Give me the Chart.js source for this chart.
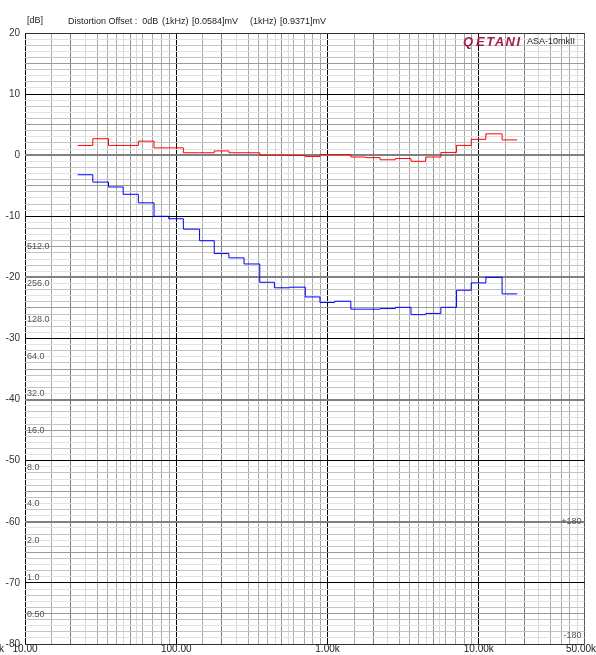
<!DOCTYPE html>
<html>
<head>
<meta charset="utf-8">
<script src="https://cdn.jsdelivr.net/npm/chart.js@4.4.0/dist/chart.umd.min.js"></script>
<style>
  html, body { margin: 0; padding: 0; background: #fff; }
  #wrap { position: relative; width: 596px; height: 655px; }
</style>
</head>
<body>
<div id="wrap"><canvas id="chart"></canvas></div>
<script>
// bandas de 1/3 de octava (Hz)
const bandas = [25, 31.5, 40, 50, 63, 80, 100, 125, 160, 200, 250, 315, 400, 500, 630, 800,
  1000, 1250, 1600, 2000, 2500, 3150, 4000, 5000, 6300, 8000, 10000, 12500, 16000];
// curva roja (dB)
const rojo = [1.6, 2.7, 1.6, 1.6, 2.3, 1.2, 1.2, 0.4, 0.4, 0.7, 0.4, 0.4, 0.0, 0.0, -0.05, -0.2,
  0.1, 0.1, -0.3, -0.4, -0.75, -0.55, -1.0, -0.3, 0.45, 1.6, 2.6, 3.5, 2.5];
// curva azul (dB)
const azul = [-3.2, -4.4, -5.2, -6.4, -7.8, -10.0, -10.4, -12.1, -14.0, -16.1, -16.8, -17.8, -20.8, -21.7, -21.6, -23.2,
  -24.1, -23.9, -25.2, -25.2, -25.1, -24.9, -26.1, -25.9, -24.9, -22.1, -20.9, -20.0, -22.7];
// etiquetas del eje X
const xTicks = [10, 100, 1000, 10000, 50000];
const xLabels = ['10.00', '100.00', '1.00k', '10.00k', '50.00k'];
// escala en mV (izquierda, dentro del gráfico)
const mvValores = [512, 256, 128, 64, 32, 16, 8, 4, 2, 1, 0.5];
const mvLabels = ['512.0', '256.0', '128.0', '64.0', '32.0', '16.0', '8.0', '4.0', '2.0', '1.0', '0.50'];
// escala de fase (derecha)
const faseLabels = ['+180', '-180'];
const faseDb = [-60, -78.6];

const FUENTE = '"Liberation Sans", Arial, sans-serif';

// puntos en los bordes de cada banda para el escalón
function escalones(valores) {
  const pts = bandas.map((f, i) => ({ x: f * Math.pow(10, -0.05), y: valores[i] }));
  const ultima = bandas[bandas.length - 1];
  pts.push({ x: ultima * Math.pow(10, 0.05), y: valores[valores.length - 1] });
  return pts;
}

// líneas verticales de la rejilla
const multX = [1, 1.5, 2, 2.5, 3, 3.5, 4, 4.5, 5, 5.5, 6, 7, 8, 9];
const gridX = [];
[10, 100, 1000, 10000].forEach(d => multX.forEach(m => { if (d * m <= 50000) gridX.push(d * m); }));
gridX.push(50000);

function colorX(v) {
  if (v === 50000) return '#555';
  const m = Math.round(v / Math.pow(10, Math.floor(Math.log10(v) + 1e-9)) * 10) / 10;
  if (m === 1) return '#000';
  if (m === 2) return '#7a7a7a';
  if (m === 5) return '#909090';
  if (m === 2.5 || m === 4.5 || m === 5.5) return '#d8d8d8';
  return '#a8a8a8';
}

// líneas horizontales cada 1 dB
const gridY = [];
for (let v = -80; v <= 20; v++) gridY.push(v);

function colorY(v) {
  if (v === 20 || v === -80) return '#333';
  if (v % 10 === 0) return (v / 10) % 2 !== 0 ? '#000' : '#808080';
  if (v % 5 === 0) return '#9a9a9a';
  return Math.abs(v) % 2 === 0 ? '#c4c4c4' : '#e2e2e2';
}
function anchoY(v) {
  if (v !== 20 && v !== -80 && v % 20 === 0) return 2;
  return 1;
}

function sinRelleno(scale) {
  scale.paddingTop = 0; scale.paddingBottom = 0;
  scale.paddingLeft = 0; scale.paddingRight = 0;
}

// textos fuera del área del gráfico
const textos = {
  id: 'textos',
  afterDraw(chart) {
    const ctx = chart.ctx;
    const x = chart.scales.x;
    ctx.save();
    ctx.textBaseline = 'middle';
    ctx.fillStyle = '#222';

    // etiquetas del eje X
    ctx.font = '10px ' + FUENTE;
    ctx.textAlign = 'center';
    xTicks.forEach((t, i) => {
      let px = x.getPixelForValue(t);
      const w = ctx.measureText(xLabels[i]).width;
      if (px + w / 2 > chart.width) px = chart.width - w / 2;
      ctx.fillText(xLabels[i], px, 649);
    });
    ctx.textAlign = 'right';
    ctx.fillText('k', 4, 649);

    // cabecera
    ctx.font = '9px ' + FUENTE;
    ctx.textAlign = 'left';
    ctx.fillText('[dB]', 27, 21);
    ctx.fillText('Distortion Offset :  0dB', 68, 22);
    ctx.fillText('(1kHz)', 162, 22);
    ctx.fillText('[0.0584]mV', 192, 22);
    ctx.fillText('(1kHz)', 250, 22);
    ctx.fillText('[0.9371]mV', 280, 22);

    // logo
    ctx.fillStyle = '#a3204f';
    ctx.font = 'italic bold 13px ' + FUENTE;
    ctx.fillText('Q', 463, 42);
    ctx.letterSpacing = '1.5px';
    ctx.fillText('ETANI', 476, 42);
    ctx.letterSpacing = '0px';
    ctx.fillStyle = '#222';
    ctx.font = '9px ' + FUENTE;
    ctx.fillText('ASA-10mkII', 527, 42);
    ctx.restore();
  }
};

const ctx = document.getElementById('chart').getContext('2d');
new Chart(ctx, {
  type: 'line',
  data: {
    datasets: [{
      label: 'rojo',
      data: escalones(rojo),
      borderColor: '#ff0000',
      borderWidth: 1,
      pointRadius: 0,
      stepped: true,
      fill: false
    }, {
      label: 'azul',
      data: escalones(azul),
      borderColor: '#0000ff',
      borderWidth: 1,
      pointRadius: 0,
      stepped: true,
      fill: false
    }]
  },
  options: {
    responsive: true,
    maintainAspectRatio: false,
    animation: false,
    layout: { padding: { top: 33, bottom: 11, left: 0, right: 11.5 } },
    plugins: { legend: { display: false }, tooltip: { enabled: false } },
    scales: {
      x: {
        type: 'logarithmic',
        min: 10,
        max: 50000,
        afterBuildTicks: s => { s.ticks = gridX.map(v => ({ value: v })); },
        afterFit: sinRelleno,
        ticks: { display: false },
        border: { display: false },
        grid: {
          drawTicks: false,
          color: c => colorX(c.tick.value),
          lineWidth: 1
        }
      },
      y: {
        type: 'linear',
        position: 'left',
        weight: 1,
        min: -80,
        max: 20,
        afterBuildTicks: s => { s.ticks = gridY.map(v => ({ value: v })); },
        afterFit: s => { sinRelleno(s); s.width = 25; },
        border: { display: false },
        ticks: {
          autoSkip: false,
          padding: 5,
          color: '#333',
          font: { size: 10, family: FUENTE },
          callback: v => (v % 10 === 0 ? String(v) : '')
        },
        grid: {
          drawTicks: false,
          color: c => colorY(c.tick.value),
          lineWidth: c => anchoY(c.tick.value)
        }
      },
      ymv: {
        type: 'linear',
        position: 'left',
        weight: 0,
        min: -80,
        max: 20,
        afterBuildTicks: s => { s.ticks = mvValores.map(v => ({ value: 20 * Math.log10(v) - 69.1 })); },
        afterFit: s => { sinRelleno(s); s.width = 0; },
        border: { display: false },
        grid: { display: false, drawTicks: false },
        ticks: {
          mirror: true,
          autoSkip: false,
          padding: 2,
          color: '#555',
          font: { size: 9, family: FUENTE },
          callback: (v, i) => mvLabels[i]
        }
      },
      yfase: {
        type: 'linear',
        position: 'right',
        min: -80,
        max: 20,
        afterBuildTicks: s => { s.ticks = faseDb.map(v => ({ value: v })); },
        afterFit: s => { sinRelleno(s); s.width = 0; },
        border: { display: false },
        grid: { display: false, drawTicks: false },
        ticks: {
          mirror: true,
          autoSkip: false,
          padding: -3,
          color: '#555',
          font: { size: 9, family: FUENTE },
          callback: (v, i) => faseLabels[i]
        }
      }
    }
  },
  plugins: [textos]
});
</script>
</body>
</html>
